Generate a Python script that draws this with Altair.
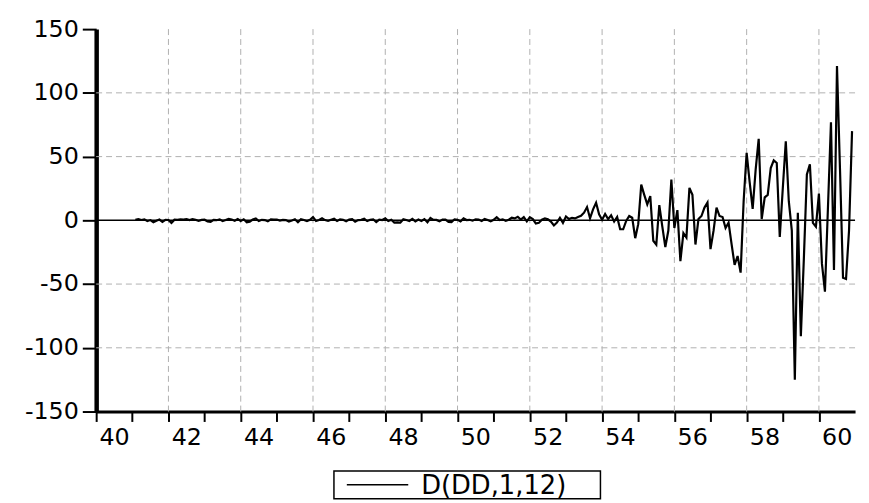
import altair as alt
import pandas as pd

# Monthly values of D(DD,1,12) (Feb 1941 .. Dec 1960)
y1941 = [0.5, 1.0, 0.3, 0.8, -0.5, 0.2, -1.5, -0.3, 0.6, -1.2, 0.4]  # Feb-Dec
y1942 = [0.3, -2.0, 0.5, 0.4, 0.8, 0.6, 1.0, 0.2, 0.9, 0.5, -0.4, 0.3]
y1943 = [0.5, -0.8, -1.2, 0.4, 0.1, 0.8, -0.5, 0.3, 1.2, 0.6, -0.3, 1.0]
y1944 = [-0.5, 0.8, -1.5, -1.0, 0.6, 1.5, -0.6, 0.4, 0.2, -0.8, 0.7, 0.5]
y1945 = [0.6, -0.2, 0.4, 0.2, -1.0, -0.2, 0.8, -1.5, 0.9, 0.3, -0.6, 0.4]
y1946 = [2.5, -0.5, 0.3, 1.6, 0.2, -0.4, 0.5, 1.2, -0.5, 0.8, 0.4, -0.8]
y1947 = [0.6, 1.0, -1.0, 0.2, 0.4, 1.2, -0.6, 0.4, 0.8, -1.4, 0.5, 0.2]
y1948 = [1.5, -0.6, 0.4, -1.8, -1.6, -1.8, 0.8, 0.3, -0.5, 1.2, -0.8, 0.6]
y1949 = [-0.5, 1.0, -1.5, 1.8, 0.4, 0.3, -0.8, 0.6, 0.5, -1.2, -1.4, 0.8]
y1950 = [0.5, -0.8, 1.5, 0.2, 0.4, -0.3, 0.8, 0.6, -0.5, 1.0, 0.2, -0.8]
y1951 = [0.4, 2.5, 0.2, 0.8, -0.3, 0.5, 2.0, 1.5, 2.8, 0.6, 2.5, -0.8]
y1952 = [2.5, 1.0, -2.5, -2.0, 0.5, 1.5, 0.8, -1.0, -4.0, -1.8, 2.0, -2.0]
y1953 = [3, 1, 2, 1.5, 2.6, 3.5, 6, 10.4, 1.6, 8.6, 13.8, 4.7]
y1954 = [0.5, 5, 1, 4, -1, 2.6, -7, -7, -0.5, 3.4, 2, -14]
y1955 = [-3, 28, 20, 12.5, 19, -16, -19, 12, -5, -21, -8, 32]
y1956 = [-6, 8, -32, -10, -13.5, 25.5, 20, -19, 1, 3.4, 10, 14]
y1957 = [-22.6, -8.3, 10, 3.4, 2.6, -6, -1.8, -18.7, -35, -28, -41, 15]
y1958 = [53, 30, 9, 40, 64, 1, 18, 20, 41, 47, 45, -13]
y1959 = [25, 62, 15, -8, -125, 6, -91, -30, 36, 44, -2, -5]
y1960 = [21, -34, -56, 10, 77, -39, 121, 40, -45, -46, -8, 70]

years = list(range(41, 61))
series_by_year = [y1941, y1942, y1943, y1944, y1945, y1946, y1947, y1948, y1949,
                  y1950, y1951, y1952, y1953, y1954, y1955, y1956, y1957, y1958,
                  y1959, y1960]

x_ticks = list(range(40, 61))
x_grid = list(range(42, 61, 2))
y_ticks = [-150, -100, -50, 0, 50, 100, 150]
y_grid = [-100, -50, 50, 100]
legend_label = ["D(DD,1,12)"]

rows = []
for yr, vals in zip(years, series_by_year):
    start = 12 - len(vals)
    for i, v in enumerate(vals):
        rows.append({"t": yr + (start + i) / 12.0, "v": v})
df = pd.DataFrame(rows)

FONT = "DejaVu Sans"
FS = 24

xscale = alt.Scale(domain=[40, 61], nice=False, zero=False)
yscale = alt.Scale(domain=[-150, 150], nice=False, zero=False)

xaxis = alt.Axis(values=x_ticks, labelExpr="datum.value % 2 == 0 ? '' + datum.value : ''",
                 title=None, grid=False, labelOffset=18, labelOverlap=False, labelFlush=False)
yaxis = alt.Axis(values=y_ticks, labelExpr="'' + datum.value", title=None, grid=False,
                 labelOverlap=False, labelFlush=False)

vgrid = alt.Chart(pd.DataFrame({"g": x_grid})).mark_rule(
    color="#b0b0b0", strokeWidth=1, strokeDash=[6, 4]
).encode(x=alt.X("g:Q", scale=xscale, axis=xaxis))

hgrid = alt.Chart(pd.DataFrame({"g": y_grid})).mark_rule(
    color="#b0b0b0", strokeWidth=1, strokeDash=[6, 4]
).encode(y=alt.Y("g:Q", scale=yscale, axis=yaxis))

zero = alt.Chart(pd.DataFrame({"g": [0]})).mark_rule(
    color="black", strokeWidth=1.5
).encode(y=alt.Y("g:Q", scale=yscale, axis=yaxis))

line = alt.Chart(df).mark_line(color="black", strokeWidth=2.2).encode(
    x=alt.X("t:Q", scale=xscale, axis=xaxis),
    y=alt.Y("v:Q", scale=yscale, axis=yaxis),
)

leg_df = pd.DataFrame({"label": legend_label})
leg_box = alt.Chart(leg_df).mark_rect(fill="white", stroke="black", strokeWidth=1.5).encode(
    x=alt.value(240), x2=alt.value(509), y=alt.value(446), y2=alt.value(474)
)
leg_line = alt.Chart(leg_df).mark_rule(color="black", strokeWidth=1.5).encode(
    x=alt.value(253), x2=alt.value(315), y=alt.value(460)
)
leg_text = alt.Chart(leg_df).mark_text(
    align="left", baseline="middle", font=FONT, fontSize=26, color="black"
).encode(x=alt.value(328), y=alt.value(461), text="label:N")

chart = alt.layer(vgrid, hgrid, zero, line, leg_box, leg_line, leg_text).properties(
    width=766, height=386,
    padding={"left": 89, "top": 19, "right": 6, "bottom": 90},
    autosize=alt.AutoSizeParams(type="none"),
).configure_view(stroke=None).configure_axis(
    labelFont=FONT, labelFontSize=FS, labelColor="black",
    domainColor="black", tickColor="black", tickWidth=2, labelPadding=4,
).configure_axisX(
    domainWidth=3, tickSize=10,
).configure_axisY(
    domainWidth=4.5, tickSize=14,
)

chart.save("out.html", embed_options={"renderer": "svg", "actions": False})
